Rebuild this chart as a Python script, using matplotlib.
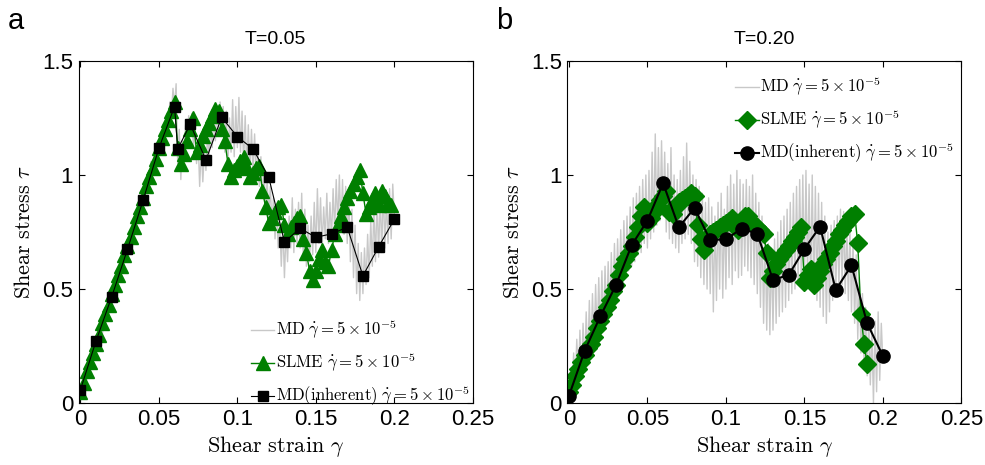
import numpy as np
from matplotlib import pyplot as plt

plt.rcParams['mathtext.fontset'] = 'cm'
plt.rcParams['font.family'] = ['Liberation Sans', 'DejaVu Sans']

# ---- panel a, T=0.05 ----
# MD raw stress, one value every 0.001 of strain
mdA = [0.00, 0.08, 0.05, 0.12, 0.10, 0.16, 0.13, 0.19, 0.17, 0.24,
       0.24, 0.29, 0.26, 0.33, 0.30, 0.37, 0.33, 0.42, 0.38, 0.46,
       0.46, 0.51, 0.48, 0.56, 0.52, 0.60, 0.57, 0.64, 0.61, 0.69,
       0.68, 0.74, 0.71, 0.79, 0.75, 0.83, 0.80, 0.88, 0.84, 0.92,
       0.91, 0.97, 0.93, 1.01, 0.98, 1.06, 1.02, 1.10, 1.06, 1.14,
       1.12, 1.18, 1.14, 1.22, 1.18, 1.27, 1.22, 1.32, 1.26, 1.38,
       1.30, 1.40, 1.05, 1.20, 0.98, 1.15, 1.08, 1.22, 1.12, 1.26,
       1.18, 1.27, 1.12, 1.20, 1.05, 1.15, 0.95, 1.12, 0.97, 1.10,
       1.02, 1.18, 1.08, 1.22, 1.12, 1.26, 1.15, 1.30, 1.18, 1.32,
       1.20, 1.30, 1.10, 1.28, 1.05, 1.25, 1.10, 1.33, 1.08, 1.30,
       1.12, 1.34, 1.10, 1.28, 1.05, 1.26, 1.02, 1.22, 1.00, 1.20,
       1.02, 1.18, 0.98, 1.12, 0.95, 1.08, 0.90, 1.02, 0.85, 0.98,
       0.82, 0.95, 0.78, 0.90, 0.72, 0.85, 0.68, 0.80, 0.60, 0.78,
       0.55, 0.75, 0.62, 0.82, 0.68, 0.90, 0.66, 0.85, 0.70, 0.88,
       0.68, 0.92, 0.64, 0.85, 0.60, 0.78, 0.62, 0.82, 0.65, 0.88,
       0.66, 0.94, 0.70, 0.90, 0.68, 0.86, 0.72, 0.92, 0.70, 0.88,
       0.72, 0.94, 0.75, 0.98, 0.78, 1.00, 0.76, 0.98, 0.74, 0.95,
       0.70, 0.92, 0.62, 0.85, 0.55, 0.78, 0.48, 0.70, 0.45, 0.66,
       0.48, 0.68, 0.52, 0.74, 0.55, 0.80, 0.60, 0.86, 0.62, 0.90,
       0.64, 0.92, 0.66, 0.95, 0.68, 0.90, 0.70, 0.94, 0.72, 0.96,
       0.82]

# SLME, one value every 0.002 of strain
slmeA = [0.05, 0.09, 0.14, 0.18, 0.22, 0.26, 0.30, 0.35, 0.39, 0.43,
         0.48, 0.52, 0.56, 0.60, 0.65, 0.69, 0.73, 0.77, 0.82, 0.86,
         0.90, 0.95, 0.99, 1.03, 1.07, 1.12, 1.16, 1.20, 1.24, 1.28,
         1.32, 1.12, 1.05, 1.09, 1.15, 1.20, 1.25, 1.10, 1.13, 1.17,
         1.20, 1.23, 1.26, 1.29, 1.28, 1.20, 1.15, 1.05, 0.99, 1.02,
         1.04, 1.06, 1.08, 1.03, 0.99, 1.01, 1.03, 1.04, 0.93, 0.86,
         0.79, 0.81, 0.84, 0.86, 0.87, 0.78, 0.74, 0.77, 0.79, 0.81,
         0.82, 0.72, 0.66, 0.58, 0.54, 0.58, 0.63, 0.67, 0.62, 0.60,
         0.67, 0.74, 0.78, 0.82, 0.86, 0.90, 0.93, 0.96, 0.99, 1.02,
         0.92, 0.83, 0.86, 0.89, 0.92, 0.87, 0.93, 0.91, 0.88, 0.87]

# MD inherent structures, every 0.01 (plus the drop after the first peak)
inhStrainA = [0, 0.01, 0.02, 0.03, 0.04, 0.05, 0.06, 0.062, 0.07, 0.08, 0.09,
              0.10, 0.11, 0.12, 0.13, 0.14, 0.15, 0.16, 0.17, 0.18, 0.19, 0.20]
inhA = [0.058, 0.273, 0.467, 0.674, 0.89, 1.117, 1.30, 1.114, 1.222, 1.066,
        1.253, 1.168, 1.114, 0.99, 0.707, 0.766, 0.727, 0.742, 0.771, 0.558,
        0.685, 0.806]

# ---- panel b, T=0.20 ----
mdB = [0.00, 0.15, 0.05, 0.22, 0.08, 0.28, 0.10, 0.32, 0.12, 0.35,
       0.15, 0.40, 0.18, 0.45, 0.22, 0.48, 0.25, 0.52, 0.28, 0.55,
       0.30, 0.58, 0.32, 0.60, 0.36, 0.62, 0.38, 0.66, 0.42, 0.70,
       0.45, 0.72, 0.48, 0.76, 0.52, 0.80, 0.55, 0.82, 0.58, 0.86,
       0.60, 0.90, 0.62, 0.92, 0.65, 0.95, 0.66, 0.98, 0.70, 1.00,
       0.68, 1.02, 0.72, 1.10, 0.75, 1.18, 0.78, 1.12, 0.80, 1.15,
       0.82, 1.10, 0.75, 1.05, 0.72, 1.12, 0.70, 1.00, 0.68, 0.98,
       0.66, 1.02, 0.70, 1.08, 0.72, 1.14, 0.74, 1.06, 0.70, 1.00,
       0.62, 0.98, 0.60, 0.95, 0.55, 0.92, 0.52, 0.88, 0.50, 0.90,
       0.48, 0.86, 0.40, 0.82, 0.45, 0.88, 0.50, 0.92, 0.46, 0.85,
       0.50, 0.95, 0.55, 1.00, 0.52, 0.96, 0.58, 1.02, 0.55, 0.98,
       0.56, 0.96, 0.60, 0.98, 0.58, 0.95, 0.55, 1.00, 0.52, 0.92,
       0.48, 0.88, 0.42, 0.82, 0.35, 0.75, 0.32, 0.70, 0.30, 0.68,
       0.32, 0.72, 0.35, 0.75, 0.38, 0.80, 0.40, 0.82, 0.42, 0.85,
       0.45, 0.88, 0.48, 0.92, 0.50, 0.95, 0.52, 0.98, 0.55, 1.00,
       0.52, 1.02, 0.55, 0.96, 0.50, 1.00, 0.48, 0.95, 0.45, 0.92,
       0.42, 0.88, 0.38, 0.82, 0.35, 0.75, 0.40, 0.78, 0.45, 0.80,
       0.48, 0.82, 0.50, 0.85, 0.52, 0.84, 0.48, 0.80, 0.45, 0.78,
       0.40, 0.72, 0.35, 0.65, 0.28, 0.55, 0.22, 0.48, 0.18, 0.42,
       0.12, 0.38, 0.08, 0.32, 0.00, 0.36, 0.05, 0.40, 0.10, 0.35,
       0.18]

slmeB = [0.05, 0.08, 0.12, 0.15, 0.18, 0.21, 0.24, 0.26, 0.29, 0.33,
         0.36, 0.39, 0.42, 0.45, 0.49, 0.52, 0.56, 0.60, 0.63, 0.66,
         0.69, 0.73, 0.77, 0.82, 0.86, 0.79, 0.81, 0.84, 0.87, 0.89,
         0.91, 0.93, 0.84, 0.83, 0.86, 0.88, 0.89, 0.90, 0.91, 0.92,
         0.91, 0.78, 0.72, 0.67, 0.71, 0.74, 0.75, 0.76, 0.77, 0.78,
         0.79, 0.80, 0.81, 0.79, 0.76, 0.79, 0.82, 0.82, 0.80, 0.78,
         0.77, 0.76, 0.74, 0.66, 0.55, 0.58, 0.61, 0.63, 0.65, 0.67,
         0.69, 0.71, 0.73, 0.75, 0.77, 0.53, 0.56, 0.59, 0.52, 0.55,
         0.58, 0.61, 0.63, 0.66, 0.69, 0.71, 0.74, 0.76, 0.78, 0.80,
         0.82, 0.83, 0.70, 0.39, 0.26, 0.17]

inhStrainB = [0, 0.01, 0.02, 0.03, 0.04, 0.05, 0.06, 0.07, 0.08, 0.09, 0.10,
              0.11, 0.12, 0.13, 0.14, 0.15, 0.16, 0.17, 0.18, 0.19, 0.20]
inhB = [0.032, 0.229, 0.381, 0.518, 0.693, 0.80, 0.964, 0.771, 0.855, 0.715,
        0.718, 0.765, 0.742, 0.54, 0.562, 0.676, 0.774, 0.496, 0.604, 0.350,
        0.207]

xticks = [0, 0.05, 0.1, 0.15, 0.2, 0.25]
xticklabels = ['0', '0.05', '0.1', '0.15', '0.2', '0.25']
yticks = [0, 0.5, 1, 1.5]
yticklabels = ['0', '0.5', '1', '1.5']

gray = '#c8c8c8'
green = '#007f00'
lab = r'\ \dot{\gamma}=5\times10^{-5}$'

fig = plt.figure(figsize=(9.85, 4.65), dpi=100)
axA = fig.add_axes([0.080, 0.133, 0.400, 0.736])
axB = fig.add_axes([0.576, 0.133, 0.400, 0.736])

panels = [
    (axA, mdA, slmeA, '^', 10.5, inhStrainA, inhA, 's', 7.5, 0.8, 'T=0.05', 'lower right', (1.01, -0.035)),
    (axB, mdB, slmeB, 'D', 9, inhStrainB, inhB, 'o', 9.5, 1.5, 'T=0.20', 'upper right', (1.0, 0.978)),
]

for ax, md, slme, gmk, gms, istrain, inh, bmk, bms, blw, title, loc, anchor in panels:
    mdStrain = np.arange(len(md)) * 0.001
    slmeStrain = np.arange(len(slme)) * 0.002
    ax.plot(mdStrain, md, color=gray, lw=1, zorder=1,
            label=r'$\mathrm{MD}' + lab)
    ax.plot(slmeStrain, slme, color=green, lw=1, marker=gmk, ms=gms,
            mec=green, mfc=green, zorder=2, label=r'$\mathrm{SLME}' + lab)
    ax.plot(istrain, inh, color='black', lw=blw, marker=bmk, ms=bms,
            zorder=3, label=r'$\mathrm{MD(inherent)}' + lab)
    ax.set_xlim(-0.001, 0.25)
    ax.set_ylim(0, 1.5)
    ax.set_xticks(xticks)
    ax.set_xticklabels(xticklabels)
    ax.set_yticks(yticks)
    ax.set_yticklabels(yticklabels)
    ax.tick_params(direction='in', top=True, right=True, labelsize=16,
                   length=4, pad=4)
    ax.set_xlabel(r'$\mathrm{Shear\ strain}\ \gamma$', fontsize=16, labelpad=3)
    ax.set_ylabel(r'$\mathrm{Shear\ stress}\ \tau$', fontsize=16, labelpad=5)
    ax.set_title(title, fontsize=14, pad=12)
    ax.legend(loc=loc, bbox_to_anchor=anchor, frameon=False, fontsize=12,
              handlelength=1.4, handletextpad=0.1, labelspacing=0.6,
              borderaxespad=0, numpoints=1)

fig.text(0.008, 0.985, 'a', fontsize=21, va='top')
fig.text(0.504, 0.985, 'b', fontsize=21, va='top')

fig.savefig('out.png', dpi=100)
